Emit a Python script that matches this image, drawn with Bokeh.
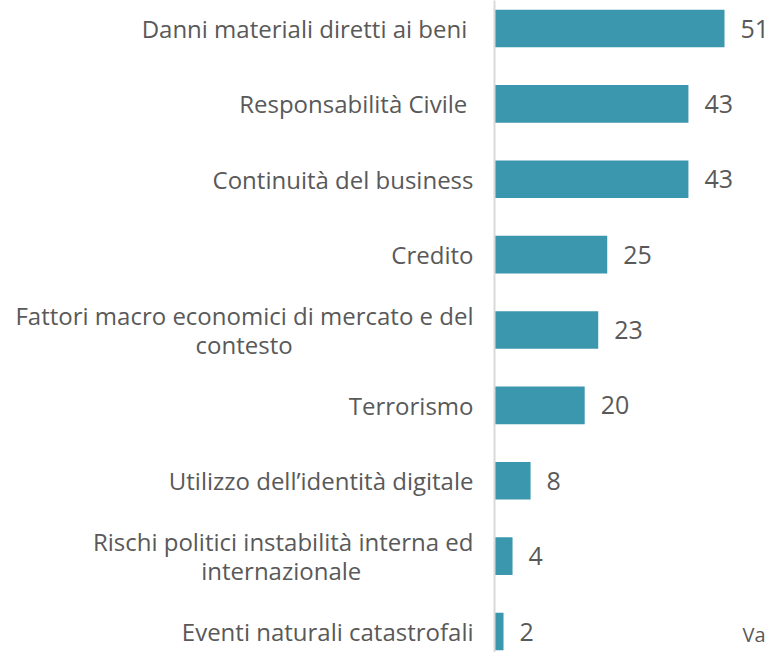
from bokeh.plotting import figure
from bokeh.models import Range1d, FixedTicker, Label, ColumnDataSource
from bokeh.embed import file_html
from bokeh.resources import INLINE
from bokeh.core.properties import value

NB = "\u00a0"
categories = [
    "Danni materiali diretti ai beni ",
    "Responsabilità Civile ",
    "Continuità del business",
    "Credito",
    "Fattori macro economici di mercato e del\ncontesto" + NB * 29,
    "Terrorismo",
    "Utilizzo dell’identità digitale",
    "Rischi politici instabilità interna ed\ninternazionale" + NB * 18,
    "Eventi naturali catastrofali",
]
values = [51, 43, 43, 25, 23, 20, 8, 4, 2]
value_labels = [str(v) for v in values]
note_text = "Va"

positions = list(range(len(categories)))

BAR = "#3A97AD"
TXT = "#595959"
FONT = "Open Sans"

src = ColumnDataSource(dict(y=positions, v=values, lab=value_labels))

W, H = 772, 652
LEFT = 494
px_per_unit = 230 / 51.0
band = 75.375
top_c, bot_c = 28, 631

p = figure(
    width=W, height=H, output_backend="svg", toolbar_location=None,
    x_axis_location=None, y_axis_location="left",
    x_range=Range1d(0, (W - LEFT) / px_per_unit),
    y_range=Range1d(len(categories) - 1 + (H - bot_c) / band, -top_c / band),
    min_border_left=LEFT, min_border_right=0, min_border_top=0, min_border_bottom=0,
    outline_line_color=None, background_fill_color="white", border_fill_color="white",
)
p.grid.visible = False

p.hbar(y="y", right="v", left=0, height=0.5, source=src, fill_color=BAR, line_color=None)
p.text(x="v", y="y", text="lab", source=src, x_offset=16, text_align="left",
       text_baseline="middle", text_font=value(FONT), text_font_size="25px", text_color=TXT)

ax = p.yaxis[0]
ax.ticker = FixedTicker(ticks=positions)
ax.major_label_overrides = {i: c for i, c in zip(positions, categories)}
ax.major_tick_line_color = None
ax.minor_tick_line_color = None
ax.axis_line_color = "#d9d9d9"
ax.axis_line_width = 2
ax.major_label_standoff = 15
ax.major_label_text_font = FONT
ax.major_label_text_font_size = "24px"
ax.major_label_text_color = TXT
ax.major_label_text_line_height = 0.88

p.add_layout(Label(x=(742 - LEFT) / px_per_unit, y=(634 - top_c) / band, text=note_text,
                   text_font=FONT, text_font_size="20px", text_color=TXT,
                   text_baseline="middle", text_align="left"))

open("out.html", "w").write(file_html(p, INLINE))
